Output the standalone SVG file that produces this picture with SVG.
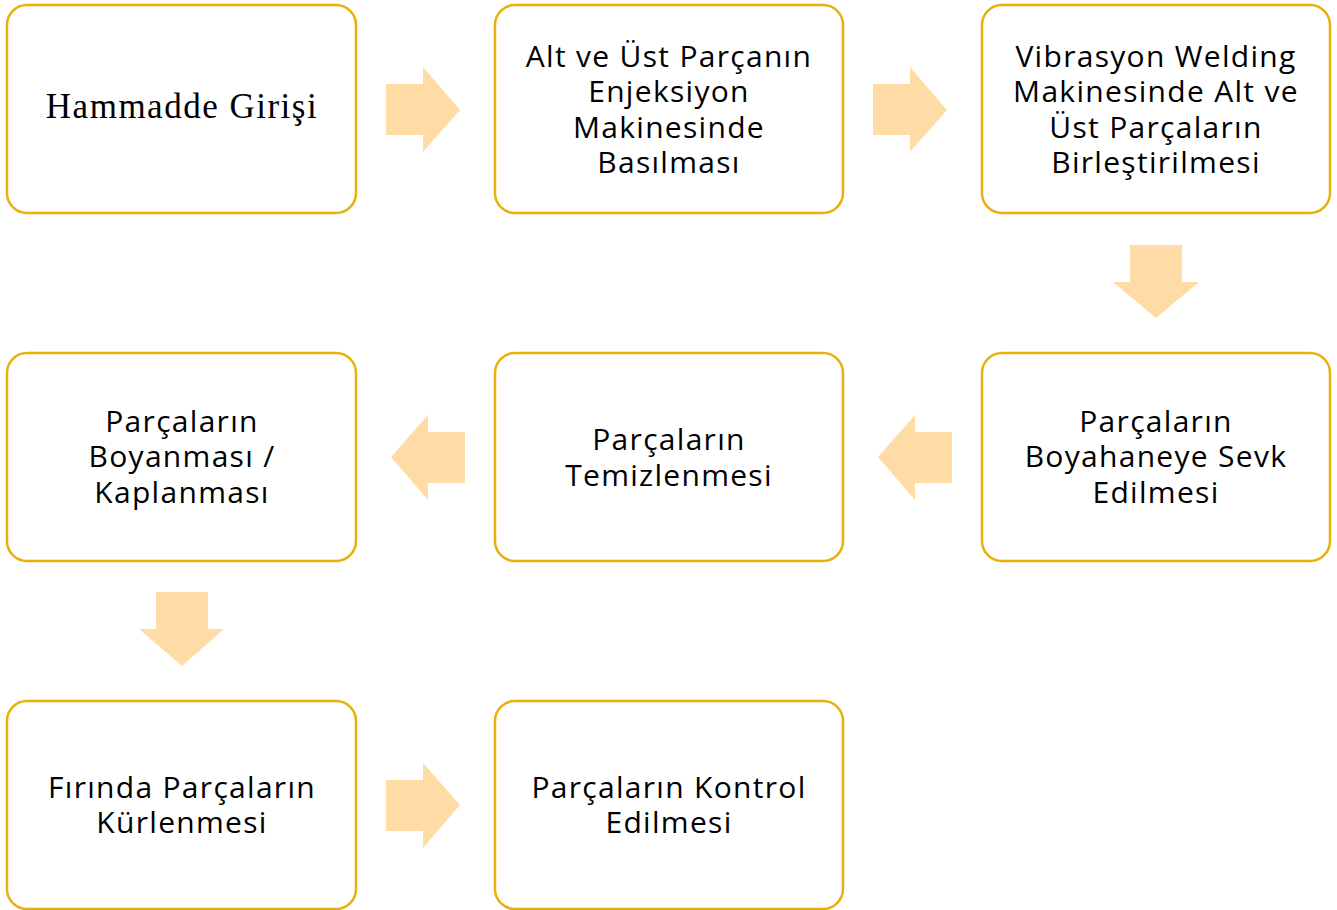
<svg xmlns="http://www.w3.org/2000/svg" width="1337" height="910" viewBox="0 0 1337 910">
<style>
.box{fill:#fff;stroke:#E8B00A;stroke-width:2.5}
.arr{fill:#FFDBA6}
.t{font-family:"Open Sans","Noto Sans",sans-serif;font-size:30px;letter-spacing:1.3px;fill:#000;text-anchor:middle}
.s{font-family:"Liberation Serif",serif;font-size:35px;letter-spacing:1.5px;fill:#000;text-anchor:middle}
</style>
<rect width="1337" height="910" fill="#fff"/>
<g id="connectors">
<polygon class="arr" points="386,84 423,84 423,67 460,110 423,152 423,135 386,135"/>
<polygon class="arr" points="873,84 910,84 910,67 947,110 910,152 910,135 873,135"/>
<polygon class="arr" points="1130,245 1182,245 1182,282 1199,282 1156,318 1113,282 1130,282"/>
<polygon class="arr" points="952,432 915,432 915,415 878,457 915,500 915,483 952,483"/>
<polygon class="arr" points="465,432 428,432 428,415 391,457 428,500 428,483 465,483"/>
<polygon class="arr" points="156,592 208,592 208,629 224,629 182,666 139,629 156,629"/>
<polygon class="arr" points="386,780 423,780 423,763 460,805 423,848 423,831 386,831"/>
</g>
<g id="n1"><rect class="box" x="7" y="5" width="349" height="208" rx="20"/><text class="s" x="182" y="118">Hammadde Girişi</text></g>
<g id="n2"><rect class="box" x="495" y="5" width="348" height="208" rx="20"/><text class="t" x="669" y="67">Alt ve Üst Parçanın</text><text class="t" x="669" y="102">Enjeksiyon</text><text class="t" x="669" y="138">Makinesinde</text><text class="t" x="669" y="173">Basılması</text></g>
<g id="n3"><rect class="box" x="982" y="5" width="348" height="208" rx="20"/><text class="t" x="1156" y="67">Vibrasyon Welding</text><text class="t" x="1156" y="102">Makinesinde Alt ve</text><text class="t" x="1156" y="138">Üst Parçaların</text><text class="t" x="1156" y="173">Birleştirilmesi</text></g>
<g id="n4"><rect class="box" x="982" y="353" width="348" height="208" rx="20"/><text class="t" x="1156" y="432">Parçaların</text><text class="t" x="1156" y="467">Boyahaneye Sevk</text><text class="t" x="1156" y="503">Edilmesi</text></g>
<g id="n5"><rect class="box" x="495" y="353" width="348" height="208" rx="20"/><text class="t" x="669" y="450">Parçaların</text><text class="t" x="669" y="486">Temizlenmesi</text></g>
<g id="n6"><rect class="box" x="7" y="353" width="349" height="208" rx="20"/><text class="t" x="182" y="432">Parçaların</text><text class="t" x="182" y="467">Boyanması /</text><text class="t" x="182" y="503">Kaplanması</text></g>
<g id="n7"><rect class="box" x="7" y="701" width="349" height="208" rx="20"/><text class="t" x="182" y="798">Fırında Parçaların</text><text class="t" x="182" y="833">Kürlenmesi</text></g>
<g id="n8"><rect class="box" x="495" y="701" width="348" height="208" rx="20"/><text class="t" x="669" y="798">Parçaların Kontrol</text><text class="t" x="669" y="833">Edilmesi</text></g>
</svg>
